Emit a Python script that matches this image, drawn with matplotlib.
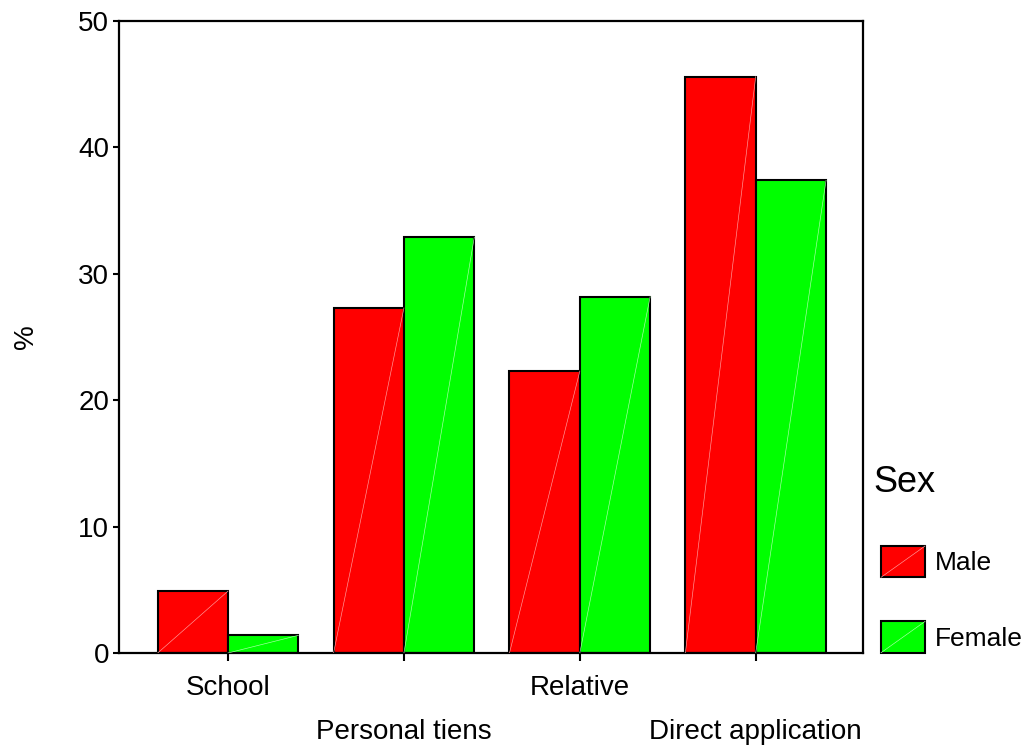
import matplotlib
matplotlib.use('Agg')
import matplotlib.pyplot as plt
import numpy as np
from matplotlib.patches import Rectangle
from matplotlib.lines import Line2D
from matplotlib.legend_handler import HandlerBase

categories = ['School', 'Personal tiens', 'Relative', 'Direct application']
male = [4.9, 27.3, 22.3, 45.6]
female = [1.4, 32.9, 28.2, 37.4]
series_labels = ['Male', 'Female']
legend_title = 'Sex'
yticks = [0, 10, 20, 30, 40, 50]

plt.rcParams['font.family'] = ['Liberation Sans', 'DejaVu Sans']

fig = plt.figure(figsize=(10.27, 7.53), dpi=100)
ax = fig.add_axes([119/1027, 100/753, 744/1027, 632/753])

x = np.arange(len(categories))
w = 0.4
colors = ['#ff0000', '#00ff00']
light = ['#ffa0a0', '#b0ffb0']

containers = []
for i, (vals, c, lc) in enumerate(zip([male, female], colors, light)):
    bc = ax.bar(x - w + i * w, vals, width=w, align='edge', color=c,
                edgecolor='black', linewidth=1.5, zorder=2)
    containers.append(bc)
    for r in bc.patches:
        ax.plot([r.get_x(), r.get_x() + r.get_width()], [0, r.get_height()],
                color=lc, lw=0.45, zorder=3)

ax.set_xlim(-0.62, 3.61)
ax.set_ylim(0, 50)
ax.set_yticks(yticks)
ax.set_xticks(x)
labels = [('' if i % 2 == 0 else '\n') + c for i, c in enumerate(categories)]
ax.set_xticklabels(labels)
for lbl in ax.get_xticklabels():
    lbl.set_linespacing(1.87)

ax.tick_params(axis='x', length=6, width=1.5, pad=10, labelsize=20)
ax.tick_params(axis='y', length=4, width=1.5, pad=3, labelsize=20)
for s in ax.spines.values():
    s.set_linewidth(1.6)
ax.set_ylabel('%', fontsize=20, labelpad=28)


class DiagHandler(HandlerBase):
    def __init__(self, lc):
        super().__init__()
        self.lc = lc

    def create_artists(self, legend, orig_handle, xdescent, ydescent, width,
                       height, fontsize, trans):
        r = Rectangle((-xdescent, -ydescent), width, height,
                      facecolor=orig_handle.get_facecolor(), edgecolor='black',
                      lw=1.5, transform=trans)
        l = Line2D([-xdescent, -xdescent + width], [-ydescent, -ydescent + height],
                   color=self.lc, lw=0.45, transform=trans)
        return [r, l]


fig.text(873/1027, 1 - 482/753, legend_title, fontsize=26, ha='left', va='center')

handles = [containers[0].patches[0], containers[1].patches[0]]
leg = ax.legend(handles, series_labels,
                handler_map={handles[0]: DiagHandler(light[0]),
                             handles[1]: DiagHandler(light[1])},
                loc='upper left', bbox_to_anchor=(881/1027, 1 - 546/753),
                bbox_transform=fig.transFigure, frameon=False,
                borderpad=0, borderaxespad=0, fontsize=19,
                handlelength=1.67, handleheight=1.45, handletextpad=0.38,
                labelspacing=1.67)

fig.savefig('out.png', dpi=100)
